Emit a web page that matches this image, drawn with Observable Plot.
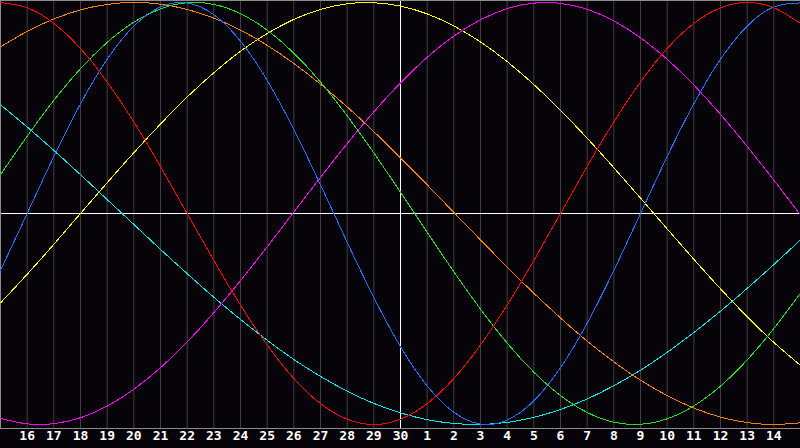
<!DOCTYPE html>
<html>
<head>
<meta charset="utf-8">
<script src="https://cdn.jsdelivr.net/npm/d3@7"></script>
<script src="https://cdn.jsdelivr.net/npm/@observablehq/plot@0.6"></script>
<style>
  html, body { margin: 0; padding: 0; background: #060409; }
  #chart { width: 800px; height: 448px; }
</style>
</head>
<body>
<div id="chart"></div>
<script>
// Day labels along the bottom (index 0 = left edge, 30 = right edge)
const dayLabels = ["15","16","17","18","19","20","21","22","23","24","25","26","27","28","29","30",
                   "1","2","3","4","5","6","7","8","9","10","11","12","13","14","15"];
const todayIndex = 15; // "30"

// Series values per day
const physical = [-0.270,0,0.270,0.520,0.731,0.888,0.979,0.998,0.942,0.817,0.631,0.398,0.136,-0.136,-0.398,-0.631,
  -0.817,-0.942,-0.998,-0.979,-0.888,-0.731,-0.520,-0.270,0,0.270,0.520,0.731,0.888,0.979,0.998];
const emotional = [1,0.975,0.901,0.782,0.623,0.434,0.223,0,-0.223,-0.434,-0.623,-0.782,-0.901,-0.975,-1,-0.975,
  -0.901,-0.782,-0.623,-0.434,-0.223,0,0.223,0.434,0.623,0.782,0.901,0.975,1,0.975,0.901];
const intellectual = [0.184,0.366,0.536,0.686,0.811,0.907,0.970,0.999,0.991,0.947,0.869,0.760,0.623,0.463,0.287,0.101,
  -0.089,-0.276,-0.453,-0.614,-0.752,-0.863,-0.943,-0.989,-0.999,-0.973,-0.912,-0.818,-0.694,-0.545,-0.377];
const intuitive = [-0.971,-0.997,-0.996,-0.968,-0.913,-0.833,-0.731,-0.609,-0.470,-0.318,-0.158,0.007,0.171,0.331,0.482,0.619,
  0.740,0.841,0.918,0.971,0.997,0.996,0.968,0.913,0.833,0.731,0.609,0.470,0.318,0.158,-0.007];
const aesthetic = [-0.424,-0.288,-0.146,0,0.146,0.288,0.424,0.552,0.667,0.769,0.853,0.920,0.967,0.994,0.999,0.983,
  0.946,0.889,0.813,0.720,0.611,0.489,0.357,0.217,0.073,-0.073,-0.217,-0.357,-0.489,-0.611,-0.720];
const awareness = [0.790,0.863,0.922,0.965,0.991,1.000,0.992,0.967,0.926,0.869,0.797,0.711,0.613,0.505,0.388,0.264,
  0.136,0.005,-0.125,-0.254,-0.378,-0.495,-0.605,-0.703,-0.790,-0.863,-0.922,-0.965,-0.991,-1.000,-0.992];
const spiritual = [0.515,0.410,0.299,0.184,0.066,-0.052,-0.170,-0.285,-0.397,-0.502,-0.601,-0.692,-0.772,-0.842,-0.900,-0.945,
  -0.977,-0.995,-1.000,-0.990,-0.966,-0.929,-0.879,-0.816,-0.743,-0.658,-0.564,-0.463,-0.355,-0.242,-0.125];

const seriesNames = ["spiritual","awareness","aesthetic","intuitive","intellectual","physical","emotional"];
const seriesValues = [spiritual, awareness, aesthetic, intuitive, intellectual, physical, emotional];
const seriesColors = ["#00e8e8","#ff8000","#ffff00","#ff00ff","#20e020","#1e6eff","#ff0000"];

const rows = [];
seriesNames.forEach((name, s) => {
  seriesValues[s].forEach((v, i) => rows.push({series: name, day: i, value: v}));
});
const ticks = d3.range(1, dayLabels.length - 1);
const gridTicks = ticks.filter(i => i !== todayIndex);

const chart = Plot.plot({
  width: 800,
  height: 448,
  marginTop: 0,
  marginRight: 0,
  marginBottom: 20,
  marginLeft: 0,
  style: {background: "#060409", color: "white"},
  x: {domain: [0, dayLabels.length - 1], axis: null},
  y: {domain: [-1, 1], range: [424, 2], axis: null},
  color: {domain: seriesNames, range: seriesColors},
  marks: [
    Plot.ruleX(gridTicks, {stroke: "#404040", strokeWidth: 1}),
    Plot.ruleX([todayIndex], {stroke: "#ffffff", strokeWidth: 1}),
    Plot.ruleY([0], {stroke: "#ffffff", strokeWidth: 1}),
    Plot.frame({stroke: "#8c8c8c", strokeWidth: 1}),
    Plot.line(rows, {x: "day", y: "value", z: "series", stroke: "series", strokeWidth: 1, curve: "natural", shapeRendering: "crispEdges"}),
    Plot.text(ticks, {
      x: d => d,
      text: d => dayLabels[d],
      frameAnchor: "bottom",
      dy: 11,
      fill: "white",
      fontSize: 13,
      fontWeight: "bold",
      fontFamily: "DejaVu Sans Mono"
    })
  ]
});
document.getElementById("chart").append(chart);
</script>
</body>
</html>
